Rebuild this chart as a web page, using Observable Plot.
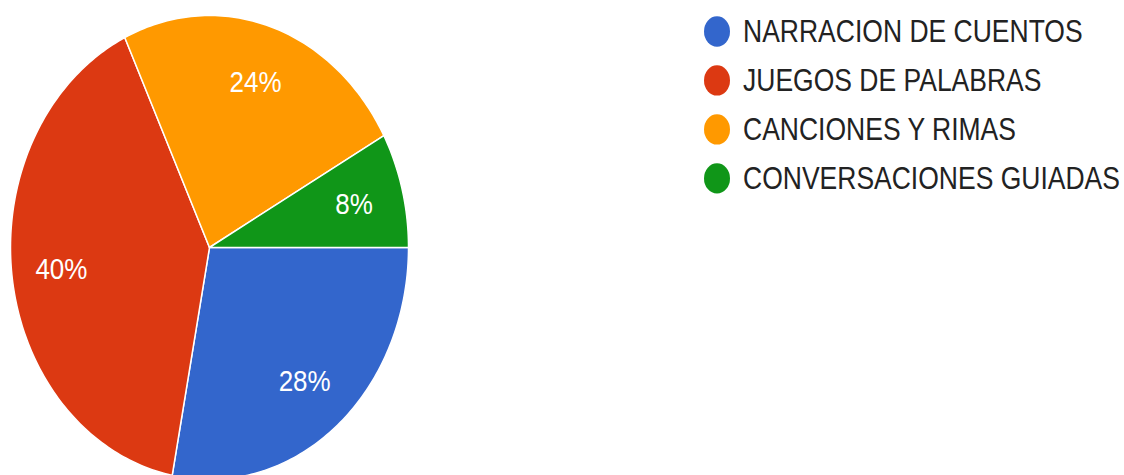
<!DOCTYPE html>
<html><head><meta charset="utf-8">
<script src="https://cdn.jsdelivr.net/npm/d3@7"></script>
<script src="https://cdn.jsdelivr.net/npm/@observablehq/plot@0.6"></script>
<style>
body{margin:0;background:#fff;}
#wrap{position:relative;width:1124px;height:475px;overflow:hidden;font-family:Arial,"Liberation Sans",sans-serif;}
#legend{position:absolute;left:704px;top:6.5px;transform:scaleY(1.166);transform-origin:0 0;}
.item{display:flex;align-items:center;height:42px;}
.sw{width:26px;height:26px;border-radius:50%;margin-right:13px;flex:none;}
.lab{font-size:26.5px;color:#222;white-space:nowrap;line-height:42px;}
</style></head><body><div id="wrap"></div>
<script>
const categories = ["NARRACION DE CUENTOS","JUEGOS DE PALABRAS","CANCIONES Y RIMAS","CONVERSACIONES GUIADAS"];
const percents = [28, 40, 24, 8];
const colors = ["#3366cc","#dc3912","#ff9900","#109618"];

const arcs = d3.pie().sort(null).startAngle(Math.PI/2).endAngle(Math.PI/2 + 2*Math.PI)(percents);
const slices = [];
arcs.forEach((a, i) => {
  const n = Math.max(2, Math.ceil((a.endAngle - a.startAngle) / (Math.PI/180)));
  slices.push({name: categories[i], px: 0, py: 0});
  for (let k = 0; k <= n; k++) {
    const t = a.startAngle + (a.endAngle - a.startAngle) * k / n;
    slices.push({name: categories[i], px: Math.sin(t), py: Math.cos(t)});
  }
  slices.push({name: categories[i], px: 0, py: 0});
});
const labels = arcs.map((a, i) => {
  const m = (a.startAngle + a.endAngle) / 2;
  return {text: percents[i] + "%", px: 0.75 * Math.sin(m), py: 0.75 * Math.cos(m)};
});

const chart = Plot.plot({
  width: 1124, height: 475,
  marginLeft: 10, marginRight: 716, marginTop: 15, marginBottom: -4,
  x: {domain: [-1, 1], axis: null},
  y: {domain: [-1, 1], axis: null},
  color: {domain: categories, range: colors},
  style: {background: "transparent", fontFamily: "Arial, 'Liberation Sans', sans-serif"},
  marks: [
    Plot.line(slices, {x: "px", y: "py", z: "name", fill: "name", stroke: "white", strokeWidth: 1.5, strokeLinejoin: "round"}),
    Plot.text(labels, {x: "px", y: "py", text: "text", fill: "white", fontSize: 26, fontFamily: "Arial, 'Liberation Sans', sans-serif"})
  ]
});
chart.querySelectorAll('g[aria-label="text"] text').forEach(t => {
  const tr = t.getAttribute("transform");
  if (tr) t.setAttribute("transform", tr + " scale(1,1.166)");
  else {
    const x = t.getAttribute("x") || 0, y = t.getAttribute("y") || 0;
    t.removeAttribute("x"); t.removeAttribute("y");
    t.setAttribute("transform", `translate(${x},${y}) scale(1,1.166)`);
  }
});
const wrap = document.getElementById("wrap");
wrap.appendChild(chart);
const color = chart.scale("color");
const legend = d3.select(wrap).append("div").attr("id", "legend");
const items = legend.selectAll("div").data(color.domain).join("div").attr("class", "item");
items.append("div").attr("class", "sw").style("background", (d, i) => color.range[i]);
items.append("div").attr("class", "lab").text(d => d);
</script>
</body></html>
